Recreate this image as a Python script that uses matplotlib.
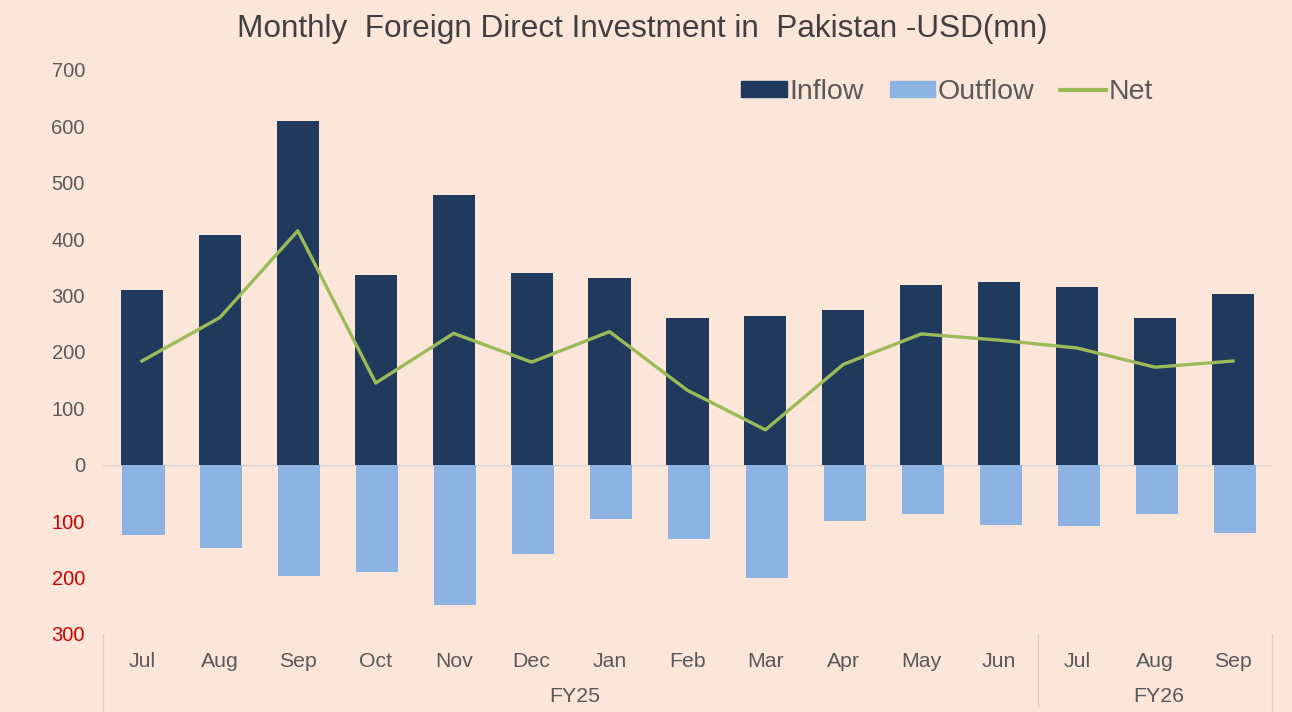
import numpy as np
import matplotlib.pyplot as plt
from matplotlib.patches import Patch
from matplotlib.lines import Line2D

plt.rcParams['font.family'] = ['Liberation Sans', 'DejaVu Sans']

months = ['Jul', 'Aug', 'Sep', 'Oct', 'Nov', 'Dec', 'Jan', 'Feb', 'Mar',
          'Apr', 'May', 'Jun', 'Jul', 'Aug', 'Sep']
inflow = [310, 408, 610, 337, 479, 340, 332, 261, 264, 275, 319, 324, 316, 261, 303]
outflow = [124, 147, 197, 191, 248, 158, 96, 131, 200, 99, 87, 106, 108, 87, 121]
net = [184, 261, 415, 145, 233, 182, 236, 132, 62, 178, 232, 221, 207, 173, 184]
fiscal_years = ['FY25', 'FY26']
fy_bounds = [(-0.5, 11.5), (11.5, 14.5)]
yticks = [-300, -200, -100, 0, 100, 200, 300, 400, 500, 600, 700]

bg = '#fce6d9'
text_col = '#595959'

fig = plt.figure(figsize=(12.92, 7.12), dpi=100, facecolor=bg)
ax = fig.add_axes([0.0797, 0.1096, 0.9048, 0.7921], facecolor=bg)

x = np.arange(len(months))
ax.bar(x, inflow, width=0.54, color='#203a5e', zorder=2)
ax.bar(x + 0.02, [-v for v in outflow], width=0.54, color='#8db3e2', zorder=2)
ax.plot(x, net, color='#9bbb59', lw=2.4, zorder=3)
ax.axhline(0, color='#d9d4cf', lw=1, zorder=1)

ax.set_xlim(-0.5, 14.5)
ax.set_ylim(-300, 700)
ax.set_yticks(yticks)
ax.set_yticklabels([str(abs(v)) for v in yticks])
for lbl, v in zip(ax.get_yticklabels(), yticks):
    lbl.set_color('#d00000' if v < 0 else text_col)
ax.set_xticks(x)
ax.set_xticklabels(months)
ax.tick_params(axis='both', length=0)
ax.tick_params(axis='y', pad=13, labelsize=14.5)
ax.tick_params(axis='x', pad=13, labelsize=15.3, labelcolor=text_col)
for s in ax.spines.values():
    s.set_visible(False)

# category group separators and fiscal-year labels
trans = ax.get_xaxis_transform()
for xb, y_end in [(-0.5, -0.14), (11.5, -0.127), (14.5, -0.14)]:
    ax.plot([xb, xb], [0, y_end], transform=trans, color='#d6cfc8', lw=1, clip_on=False)
for name, (a, b) in zip(fiscal_years, fy_bounds):
    ax.text((a + b) / 2 + 0.05, -0.111, name, transform=trans, ha='center', va='center',
            fontsize=15.3, color=text_col)

fig.text(0.497, 0.959, 'Monthly  Foreign Direct Investment in  Pakistan -USD(mn)',
         ha='center', va='center', fontsize=22.7, color='#404040')

handles = [Patch(color='#203a5e'), Patch(color='#8db3e2'),
           Line2D([0], [0], color='#9bbb59', lw=3)]
ax.legend(handles, ['Inflow', 'Outflow', 'Net'], ncol=3, frameon=False,
          loc='center', bbox_to_anchor=(0.733, 0.871), bbox_transform=fig.transFigure,
          fontsize=20.5, labelcolor=text_col, handlelength=1.6, handleheight=0.5,
          handletextpad=0.1, columnspacing=0.9)

fig.savefig('out.png', dpi=100, facecolor=bg)
